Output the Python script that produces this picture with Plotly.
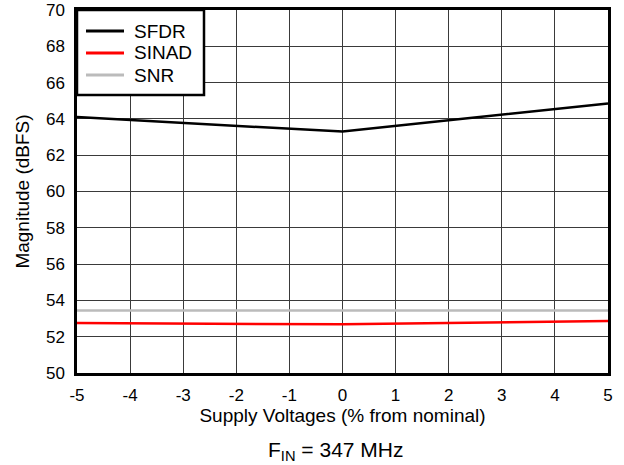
import plotly.graph_objects as go

supply_pct = [-5, 0, 5]
sfdr = [64.1, 63.3, 64.85]
sinad = [52.75, 52.68, 52.86]
snr = [53.45, 53.43, 53.45]

series_names = ["SFDR", "SINAD", "SNR"]
series_colors = ["black", "#ff0000", "#bbbbbb"]

x_ticks = list(range(-5, 6))
y_ticks = list(range(50, 71, 2))

FONT = "Liberation Sans, Arial, Helvetica, sans-serif"
TICK_FS = 17
TITLE_FS = 19

fig = go.Figure()
for name, vals, col in zip(series_names, [sfdr, sinad, snr], series_colors):
    fig.add_trace(go.Scatter(x=supply_pct, y=vals, mode="lines", name=name,
                             line=dict(color=col, width=2.5), showlegend=False))

# Legend drawn as a framed box in the top-left corner (paper coordinates)
plot_w, plot_h = 531.0, 363.0
box_x1 = 127 / plot_w
box_y0 = 1 - 85 / plot_h
shapes = [dict(type="rect", xref="paper", yref="paper", x0=0, x1=box_x1, y0=box_y0, y1=1,
               line=dict(color="black", width=2.5), fillcolor="white", layer="above")]
annotations = []
for i, (name, col) in enumerate(zip(series_names, series_colors)):
    yy = 1 - (21 + 22 * i) / plot_h
    shapes.append(dict(type="line", xref="paper", yref="paper",
                       x0=9 / plot_w, x1=47 / plot_w, y0=yy, y1=yy,
                       line=dict(color=col, width=3), layer="above"))
    annotations.append(dict(text=name, xref="paper", yref="paper", x=55 / plot_w, y=yy,
                            xanchor="left", yanchor="middle", showarrow=False,
                            font=dict(size=TITLE_FS)))

annotations.append(dict(text="F<sub>IN</sub> = 347 MHz", xref="paper", yref="paper",
                        x=0.486, y=-0.173, xanchor="center", yanchor="top",
                        showarrow=False, font=dict(size=21)))

fig.update_layout(
    width=624, height=465,
    margin=dict(l=77, r=16, t=10, b=92, autoexpand=False),
    paper_bgcolor="white", plot_bgcolor="white",
    font=dict(family=FONT, size=TICK_FS, color="black"),
    showlegend=False,
    shapes=shapes,
    annotations=annotations,
    xaxis=dict(range=[-5, 5], tickvals=x_ticks, ticktext=[str(v) for v in x_ticks],
               showgrid=True, gridcolor="#3a3a3a", gridwidth=1,
               zeroline=False, showline=True, linecolor="black", linewidth=2.5,
               mirror=True, ticks="", tickfont=dict(size=TICK_FS), automargin=False,
               ticklabelstandoff=5, ticklabeloverflow="allow",
               title=dict(text="Supply Voltages (% from nominal)", font=dict(size=TITLE_FS), standoff=4)),
    yaxis=dict(range=[50, 70], tickvals=y_ticks, ticktext=[str(v) for v in y_ticks],
               showgrid=True, gridcolor="#3a3a3a", gridwidth=1,
               zeroline=False, showline=True, linecolor="black", linewidth=2.5,
               mirror=True, ticks="", tickfont=dict(size=TICK_FS), automargin=False,
               ticklabelstandoff=6, ticklabeloverflow="allow",
               title=dict(text="Magnitude (dBFS)", font=dict(size=TITLE_FS), standoff=12)),
)

fig.write_html("out.html", config={"displayModeBar": False},
               post_script="document.body.style.margin='0';document.body.style.overflow='hidden';")
